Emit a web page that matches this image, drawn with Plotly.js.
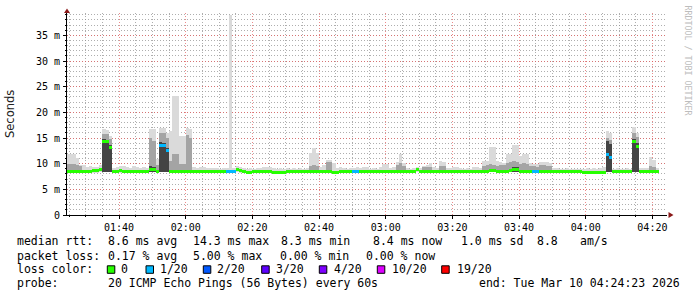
<!DOCTYPE html>
<html><head><meta charset="utf-8">
<script src="https://cdn.plot.ly/plotly-3.0.1.min.js"></script>
<style>html,body{margin:0;padding:0;background:#fff;}#chart{width:697px;height:297px;}</style>
</head><body><div id="chart"></div>
<script>
// ---- time base: one sample per minute, first sample 01:24 ----
const dayStr = '2026-03-10';
const firstSampleMinute = 1 * 60 + 24;   // 01:24
const stepSeconds = 60;
const rangeStart = '2026-03-10 01:24:23';
const rangeEnd = '2026-03-10 04:24:23';

// ---- data (ms), one value per minute from 01:24 to 04:21 ----
const medianRtt = [
 8.4,
 8.4,8.4,8.4,8.4,8.4,8.4,8.5,8.6,8.6,8.8,
 14.3,14.3,13.2,8.5,8.5,8.7,8.4,8.4,8.4,8.4,
 8.4,8.4,8.4,8.4,8.9,8.9,8.4,13.6,13.6,12.6,
 8.4,8.4,8.4,8.4,8.4,8.4,8.4,8.4,8.4,8.4,
 8.4,8.4,8.4,8.4,8.4,8.4,8.4,8.4,8.4,8.4,
 8.8,8.6,8.4,8.3,8.3,8.4,8.4,8.4,8.4,8.4,
 8.4,8.3,8.3,8.3,8.3,8.4,8.4,8.4,8.4,8.4,
 8.4,8.4,8.4,8.4,8.4,8.4,8.4,8.4,8.4,8.3,
 8.3,8.4,8.4,8.4,8.4,8.4,8.4,8.4,8.4,8.4,
 8.4,8.4,8.4,8.4,8.4,8.4,8.4,8.4,8.4,8.4,
 8.4,8.4,8.4,8.4,8.8,8.4,8.4,8.4,8.4,8.4,
 8.4,8.4,8.4,8.4,8.4,8.4,8.4,8.4,8.4,8.4,
 8.4,8.4,8.4,8.4,8.4,8.4,8.7,8.7,8.4,8.4,
 8.4,8.5,8.6,8.8,8.8,8.4,8.4,8.4,8.4,8.4,
 8.4,8.4,8.4,8.4,8.4,8.4,8.4,8.4,8.4,8.4,
 8.4,8.4,8.4,8.4,8.3,8.3,8.3,8.3,8.3,8.3,
 8.3,11.7,11.2,8.4,8.4,8.4,8.4,8.4,8.4,14.3,
 13.4,8.4,8.4,8.4,8.4,8.4,8.4
];
const lostPings = [
 0,
 0,0,0,0,0,0,0,0,0,0,
 0,0,0,0,0,0,0,0,0,0,
 0,0,0,0,0,0,0,1,1,1,
 0,0,0,0,0,0,0,0,0,0,
 0,0,0,0,0,0,0,1,1,1,
 0,0,0,0,0,0,0,0,0,0,
 0,0,0,0,0,0,0,0,0,0,
 0,0,0,0,0,0,0,0,0,0,
 0,0,0,0,0,1,1,0,0,0,
 0,0,0,0,0,0,0,0,0,0,
 0,0,0,0,0,0,0,0,0,0,
 0,0,0,0,0,0,0,0,0,0,
 0,0,0,0,0,0,0,0,0,0,
 0,0,0,0,0,0,0,0,0,1,
 1,0,0,0,0,0,0,0,0,0,
 0,0,0,0,0,0,0,0,0,0,
 0,1,1,0,0,0,0,0,0,0,
 0,0,0,0,0,0,0
];
const minRtt = [
 8.2,
 8.2,8.2,8.2,8.2,8.2,8.2,8.2,8.2,8.2,8.3,
 8.3,8.3,8.3,8.2,8.2,8.2,8.2,8.2,8.2,8.2,
 8.2,8.2,8.2,8.2,8.3,8.3,8.2,8.3,8.3,8.3,
 8.2,8.2,8.2,8.2,8.2,8.2,8.2,8.2,8.2,8.2,
 8.2,8.2,8.2,8.2,8.2,8.2,8.2,8.2,8.2,8.2,
 8.3,8.2,8.2,8.1,8.1,8.2,8.2,8.2,8.2,8.2,
 8.2,8.1,8.1,8.1,8.1,8.2,8.2,8.2,8.2,8.2,
 8.2,8.2,8.2,8.2,8.2,8.2,8.2,8.2,8.2,8.1,
 8.1,8.2,8.2,8.2,8.2,8.2,8.2,8.2,8.2,8.2,
 8.2,8.2,8.2,8.2,8.2,8.2,8.2,8.2,8.2,8.2,
 8.2,8.2,8.2,8.2,8.3,8.2,8.2,8.2,8.2,8.2,
 8.2,8.2,8.2,8.2,8.2,8.2,8.2,8.2,8.2,8.2,
 8.2,8.2,8.2,8.2,8.2,8.2,8.3,8.3,8.2,8.2,
 8.2,8.2,8.3,8.3,8.3,8.2,8.2,8.2,8.2,8.2,
 8.2,8.2,8.2,8.2,8.2,8.2,8.2,8.2,8.2,8.2,
 8.2,8.2,8.2,8.2,8.1,8.1,8.1,8.1,8.1,8.1,
 8.1,8.3,8.3,8.2,8.2,8.2,8.2,8.2,8.2,8.3,
 8.3,8.2,8.2,8.2,8.2,8.2,8.2
];
const maxRtt = [
 11.8,
 11.8,11.8,11.2,9.8,9.7,9.4,9.6,9.3,9.4,9.7,
 16.8,16.6,15.4,9.2,9.3,9.6,9.6,9.3,9.2,9.5,
 9.4,9.2,9.3,9.2,16.8,16.8,11.0,17.0,17.0,16.0,
 16.3,23.1,23.1,15.4,15.4,17.0,16.8,9.4,9.2,9.3,
 9.4,9.2,9.2,9.1,9.2,9.0,9.2,9.1,39.0,9.2,
 9.5,9.3,9.1,9.0,9.1,9.0,9.2,9.1,9.3,9.3,
 9.3,9.2,9.0,9.1,9.0,9.1,9.0,9.1,9.0,9.1,
 9.0,9.2,12.1,13.1,12.1,9.3,9.8,10.8,10.8,10.2,
 9.1,9.3,9.2,9.0,9.1,9.2,9.3,9.2,9.3,9.3,
 9.0,9.1,9.0,9.3,10.0,10.0,9.2,9.3,10.4,11.8,
 10.2,9.2,9.0,9.1,9.3,9.2,9.6,9.8,10.2,9.3,
 9.1,10.6,10.4,9.1,9.2,9.4,9.4,9.1,9.0,9.2,
 9.0,9.3,9.3,9.1,10.5,10.5,13.3,13.3,10.6,10.4,
 10.2,11.8,11.8,13.6,13.6,11.4,11.9,11.9,10.2,10.0,
 9.9,10.3,10.3,10.3,10.2,9.2,9.1,9.0,9.0,9.1,
 9.0,8.9,9.0,8.9,9.0,9.1,9.0,9.1,9.0,9.2,
 9.3,16.3,16.0,9.0,9.1,9.0,9.0,9.1,9.0,17.2,
 16.0,9.1,9.2,9.2,11.3,10.8,9.2
];
const upperQuartileRtt = [
 10.0,
 10.0,10.0,9.8,9.6,null,null,null,null,null,null,
 15.8,15.8,14.8,null,null,null,null,null,null,null,
 null,null,null,null,15.0,14.5,9.8,16.0,16.0,15.0,
 10.5,11.8,11.8,10.0,10.0,15.5,15.0,null,null,null,
 null,null,null,null,null,null,null,null,null,null,
 null,null,null,null,null,null,null,null,null,null,
 null,null,null,null,null,null,null,null,null,null,
 null,null,9.6,9.8,9.6,null,null,10.4,10.4,null,
 null,null,null,null,null,null,null,null,null,null,
 null,null,null,null,null,null,null,null,9.8,10.2,
 9.6,null,null,null,null,null,9.3,9.4,9.4,null,
 null,9.6,9.5,null,null,null,null,null,null,null,
 null,null,null,null,9.6,9.8,10.0,9.8,9.6,9.8,
 9.7,10.2,10.4,10.6,10.4,10.0,10.2,10.0,9.6,9.6,
 9.4,9.7,9.8,9.6,9.5,null,null,null,null,null,
 null,null,null,null,null,null,null,null,null,null,
 null,15.0,14.6,null,null,null,null,null,null,16.0,
 15.2,null,null,null,9.6,9.4,null
];
const coreRtt = [
 null,
 null,null,null,null,null,null,null,null,null,null,
 14.8,14.6,13.6,null,null,null,null,null,null,null,
 null,null,null,null,9.6,9.4,null,14.2,14.0,13.0,
 null,null,null,null,null,null,null,null,null,null,
 null,null,null,null,null,null,null,null,null,null,
 null,null,null,null,null,null,null,null,null,null,
 null,null,null,null,null,null,null,null,null,null,
 null,null,null,null,null,null,null,null,null,null,
 null,null,null,null,null,null,null,null,null,null,
 null,null,null,null,null,null,null,null,null,null,
 null,null,null,null,null,null,null,null,null,null,
 null,null,null,null,null,null,null,null,null,null,
 null,null,null,null,null,null,null,null,null,null,
 null,null,null,9.4,9.3,null,null,null,null,null,
 null,null,null,null,null,null,null,null,null,null,
 null,null,null,null,null,null,null,null,null,null,
 null,14.5,13.8,null,null,null,null,null,null,14.8,
 14.0,null,null,null,null,null,null
];

// ---- legend / labels ----
const lossLevels = [0, 1, 2, 3, 4, 10, 19];
const lossLabels = ['0', '1/20', '2/20', '3/20', '4/20', '10/20', '19/20'];
const lossColors = ['#26ff00', '#00b8ff', '#0059ff', '#5e00ff', '#7e00ff', '#dd00ff', '#ff0000'];
const yTickVals = [0, 5, 10, 15, 20, 25, 30, 35];
const yTickText = ['0', '5 m', '10 m', '15 m', '20 m', '25 m', '30 m', '35 m'];
const statRtt = ['median rtt:', '8.6 ms avg', '14.3 ms max', '8.3 ms min', '8.4 ms now', '1.0 ms sd', '8.8', 'am/s'];
const statLoss = ['packet loss:', '0.17 % avg', '5.00 % max', '0.00 % min', '0.00 % now'];
const lossColorTitle = 'loss color:';
const probeLine = ['probe:', '20 ICMP Echo Pings (56 Bytes) every 60s', 'end: Tue Mar 10 04:24:23 2026'];
const yTitle = 'Seconds';
const watermark = 'RRDTOOL / TOBI OETIKER';

// ---- helpers ----
const pad = n => String(n).padStart(2, '0');
function timeAt(k, offsetSec) {
  const t = firstSampleMinute * 60 + k * stepSeconds + offsetSec;
  return `${dayStr} ${pad(Math.floor(t / 3600))}:${pad(Math.floor(t % 3600 / 60))}:${pad(t % 60)}`;
}
const times = medianRtt.map((_, k) => timeAt(k, stepSeconds / 2));
const barW = stepSeconds * 1000;

function band(top, color) {
  return {
    type: 'bar', x: times, base: minRtt,
    y: top.map((v, i) => v == null ? null : v - minRtt[i]),
    width: barW, marker: {color: color, line: {width: 0}},
    hoverinfo: 'skip', showlegend: false
  };
}
const medHalf = 0.29;
const medianTrace = {
  type: 'bar', x: times, base: medianRtt.map(v => v - medHalf),
  y: medianRtt.map(() => 2 * medHalf), width: barW,
  marker: {color: lostPings.map(l => lossColors[lossLevels.indexOf(l)]), line: {width: 0}},
  hoverinfo: 'skip', showlegend: false
};

const traces = [
  band(maxRtt, '#dadada'),
  band(upperQuartileRtt, '#a4a4a4'),
  band(coreRtt, '#444444'),
  medianTrace
];

const PL = 67, PT = 13, PB = 82, PR = 30, H = 297;
const plotBottom = H - PB;
const mono = 'DejaVu Sans Mono';
const txtColor = '#000';
const annotations = [];
function textAt(px, py, text, opts) {
  annotations.push(Object.assign({
    xref: 'paper', yref: 'paper', x: 0, y: 0, xanchor: 'left', yanchor: 'middle',
    xshift: px - PL, yshift: plotBottom - py, showarrow: false, borderpad: 0,
    text: text.replace(/ /g, '\u00a0'),
    font: {family: mono, size: 11.5, color: txtColor}
  }, opts || {}));
}
const rttX = [16, 107.3, 192.3, 280, 372.3, 460, 536.7, 579.3];
statRtt.forEach((s, i) => textAt(rttX[i] - 0.5, 241, s));
const lossX = [16, 107.3, 192.3, 279.3, 365];
statLoss.forEach((s, i) => textAt(lossX[i] - 0.5, 255.7, s));
textAt(15.5, 269.3, lossColorTitle);
const swatchX = [107.3, 146, 203.3, 261.7, 319.3, 377.3, 441.7];
const swatchLabelX = [120.7, 159.3, 216.7, 275, 333.3, 391.7, 456];
lossLabels.forEach((s, i) => textAt(swatchLabelX[i] - 0.5, 269.3, s));
const probeX = [16, 107.3, 478.3];
probeLine.forEach((s, i) => textAt(probeX[i] - 0.5, 283.3, s));

annotations.push({
  xref: 'paper', yref: 'paper', x: 0, y: 0, xanchor: 'center', yanchor: 'middle',
  xshift: 10 - PL, yshift: plotBottom - 114, textangle: -90, showarrow: false,
  text: yTitle, font: {family: 'DejaVu Sans', size: 11.5, color: '#222'}
});
annotations.push({
  xref: 'paper', yref: 'paper', x: 1, y: 1, xanchor: 'center', yanchor: 'middle',
  xshift: 687.5 - (697 - PR), yshift: PT - 60, textangle: 90, showarrow: false,
  text: watermark.replace(/ /g, '\u00a0'), font: {family: mono, size: 8.3, color: '#bdbdbd'}
});

const shapes = [];
lossColors.forEach((c, i) => shapes.push({
  type: 'rect', xref: 'paper', yref: 'paper', xsizemode: 'pixel', ysizemode: 'pixel',
  xanchor: 0, yanchor: 0,
  x0: swatchX[i] - PL, x1: swatchX[i] - PL + 7.5,
  y0: plotBottom - 273.3, y1: plotBottom - 265.8,
  fillcolor: c, line: {color: '#000', width: 1}
}));
// axis arrows
shapes.push({type: 'path', xref: 'paper', yref: 'paper', xsizemode: 'pixel', ysizemode: 'pixel',
  xanchor: 0, yanchor: 1, path: 'M -3 0 L 3 0 L 0 4.5 Z', fillcolor: '#8b1a1a', line: {width: 0}});
shapes.push({type: 'path', xref: 'paper', yref: 'paper', xsizemode: 'pixel', ysizemode: 'pixel',
  xanchor: 1, yanchor: 0, path: 'M 0 0 L 1.5 0 L 1.5 -3 L 6.5 0 L 1.5 3 L 1.5 0 Z', fillcolor: '#8b1a1a', line: {color: '#8b1a1a', width: 0}});

const majorGrid = 'rgba(230,90,90,0.7)';
const minorGrid = 'rgba(140,140,140,0.7)';
const layout = {
  width: 697, height: H,
  margin: {l: PL, r: PR, t: PT, b: PB, pad: 0},
  paper_bgcolor: '#fff', plot_bgcolor: '#fff',
  barmode: 'overlay', bargap: 0, showlegend: false,
  font: {family: mono, size: 10, color: '#000'},
  xaxis: {
    type: 'date', range: [rangeStart, rangeEnd], tickmode: 'linear',
    tick0: dayStr + ' 00:00:00', dtick: 20 * 60 * 1000, tickformat: '%H:%M',
    showgrid: true, gridcolor: majorGrid, griddash: '1px,2px', gridwidth: 1,
    showline: true, linecolor: '#000', linewidth: 1, zeroline: false,
    ticks: 'outside', ticklen: 3, tickcolor: '#000',
    tickfont: {family: mono, size: 10, color: '#000'},
    minor: {tickmode: 'linear', tick0: dayStr + ' 00:00:00', dtick: 5 * 60 * 1000,
      showgrid: true, gridcolor: minorGrid, griddash: '1px,2px', ticks: 'outside', ticklen: 1, tickcolor: '#000'},
    fixedrange: true
  },
  yaxis: {
    range: [0, 39.35], tickmode: 'array', tickvals: yTickVals, ticktext: yTickText,
    showgrid: true, gridcolor: majorGrid, griddash: '1px,2px', gridwidth: 1,
    showline: true, linecolor: '#000', linewidth: 1, zeroline: false,
    ticks: 'outside', ticklen: 3, tickcolor: '#000', ticklabelstandoff: 1,
    tickfont: {family: mono, size: 10, color: '#000'},
    minor: {tickmode: 'linear', tick0: 0, dtick: 1, showgrid: true, gridcolor: minorGrid,
      griddash: '1px,2px', ticks: 'outside', ticklen: 1, tickcolor: '#000'},
    fixedrange: true
  },
  annotations: annotations,
  shapes: shapes
};
Plotly.newPlot('chart', traces, layout, {displayModeBar: false, staticPlot: true});
</script></body></html>
